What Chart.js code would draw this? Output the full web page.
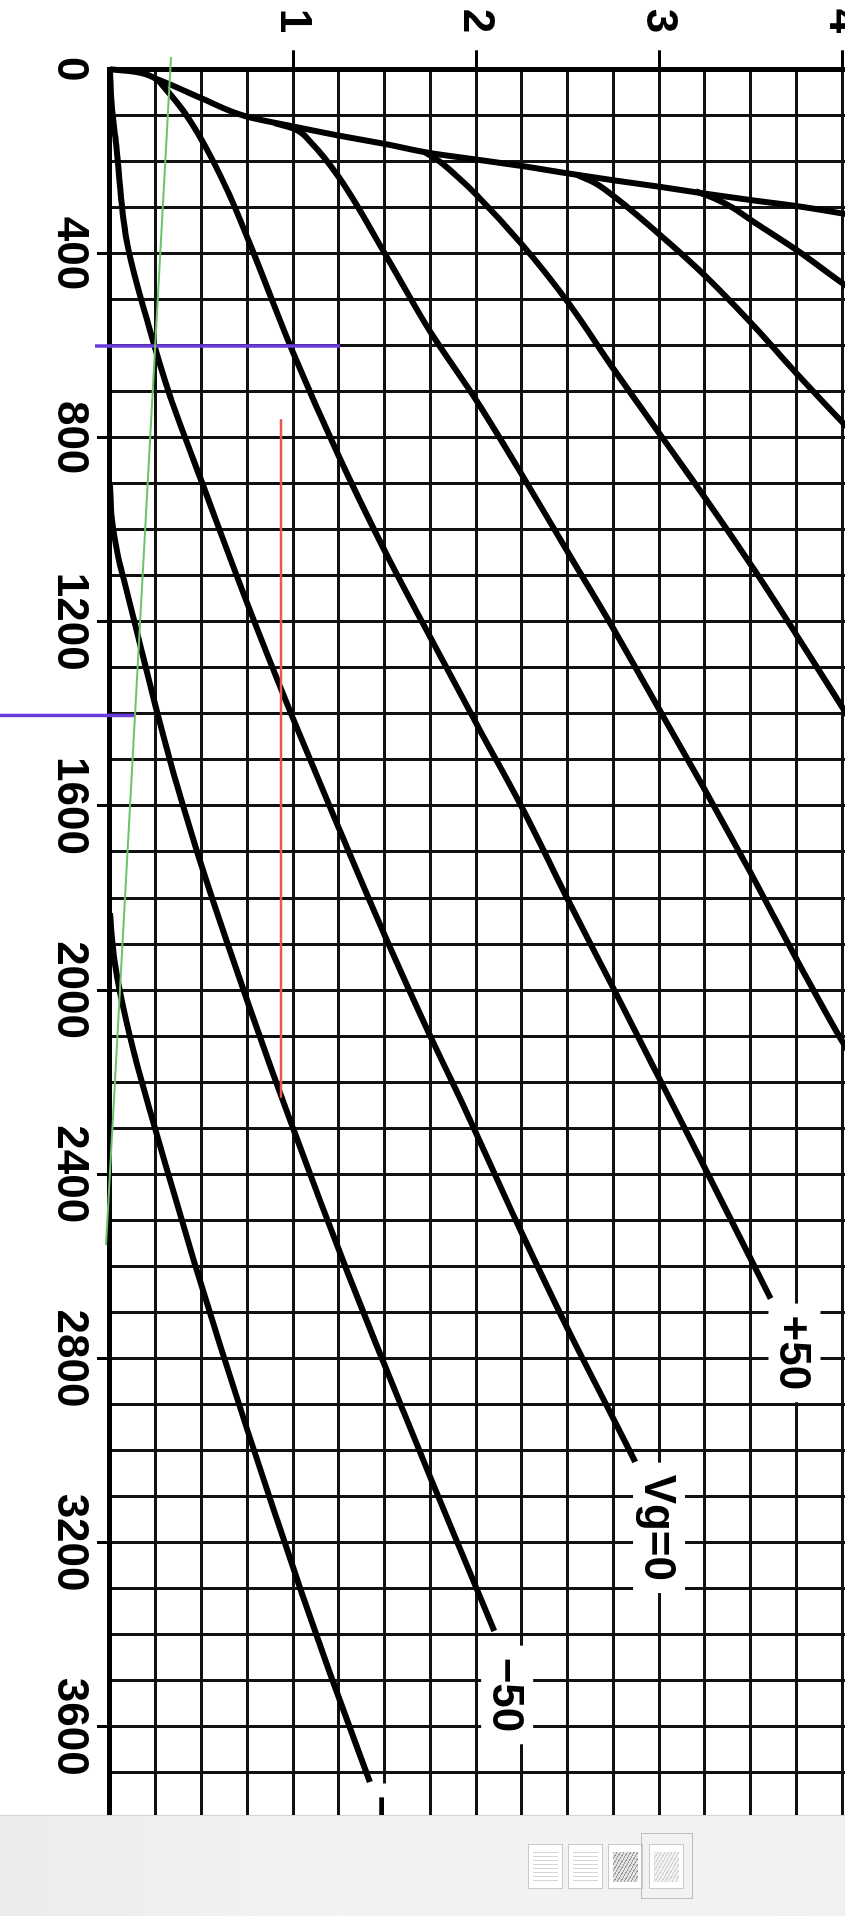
<!DOCTYPE html>
<html>
<head>
<meta charset="utf-8">
<script src="https://cdn.jsdelivr.net/npm/chart.js@4.4.1/dist/chart.umd.min.js"></script>
<style>
  html, body { margin: 0; padding: 0; background: #fff; overflow: hidden; width: 845px; height: 1916px; }
  /* the scan is turned a quarter clockwise, so the chart is drawn flat and rotated */
  #turn { position: absolute; left: 845px; top: 0; width: 1916px; height: 845px; transform-origin: 0 0; transform: rotate(90deg); }
  #bar { position: absolute; left: 0; top: 1815px; width: 845px; height: 101px; background: linear-gradient(90deg, #ececec, #f3f3f3 40%, #f1f1f1); border-top: 1px solid #d4d4d4; }
  .thumb { position: absolute; top: 28px; width: 33px; height: 43px; background: #fff; border: 1px solid #c9c9c9; }
  .thumb i { position: absolute; left: 4px; right: 4px; top: 7px; bottom: 6px; background: repeating-linear-gradient(180deg, #d6d6d6 0 1px, transparent 1px 4px); }
  .thumb.dark i { background: repeating-linear-gradient(120deg, #9a9a9a 0 1px, #e4e4e4 1px 3px); }
  .thumb.faint i { background: repeating-linear-gradient(120deg, #d0d0d0 0 1px, #f2f2f2 1px 3px); }
  #sel { position: absolute; left: 641px; top: 17px; width: 50px; height: 64px; border: 1px solid #bdbdbd; }
</style>
</head>
<body>
<div id="turn"><canvas id="plate" width="1916" height="845"></canvas></div>
<div id="bar">
  <div class="thumb" style="left:528px"><i></i></div>
  <div class="thumb" style="left:568px"><i></i></div>
  <div class="thumb dark" style="left:608px"><i></i></div>
  <div class="thumb faint" style="left:649px"><i></i></div>
  <div id="sel"></div>
</div>
<script>
// plate volts (V) against plate current (I)
const voltTicks = [0, 400, 800, 1200, 1600, 2000, 2400, 2800, 3200, 3600];
const ampTicks = [1, 2, 3, 4];

// envelope the high positive-grid curves leave from
const limitI = [0, 0.13, 0.26, 0.5, 0.75, 1.0, 1.25, 1.5, 1.75, 2.0, 2.25, 2.5, 2.75, 3.0, 3.25, 3.5, 3.75, 4.03];
const limitV = [0, 5, 22, 63, 103, 124, 144, 162, 182, 196, 210, 226, 241, 255, 270, 284, 297, 315];

const vgP250I = [3.2, 3.3, 3.4, 3.5, 3.75, 4.0, 4.03];
const vgP250V = [265, 280, 300, 327, 392, 464, 472];

const vgP200I = [2.55, 2.65, 2.75, 3.0, 3.25, 3.5, 3.75, 4.0, 4.03];
const vgP200V = [229, 247, 275, 358, 448, 550, 660, 766, 778];

const vgP150I = [1.72, 1.8, 1.9, 2.0, 2.25, 2.5, 2.75, 3.0, 3.25, 3.5, 3.75, 4.0, 4.03];
const vgP150V = [180, 200, 234, 272, 380, 505, 650, 790, 930, 1075, 1228, 1385, 1404];

const vgP100I = [0.9, 1.01, 1.1, 1.25, 1.5, 1.75, 2.0, 2.25, 2.5, 2.75, 3.0, 3.25, 3.5, 3.75, 4.0, 4.03];
const vgP100V = [117, 130, 160, 234, 399, 570, 718, 880, 1048, 1215, 1390, 1565, 1745, 1932, 2111, 2130];

const vgP50I = [0.26, 0.4, 0.51, 0.64, 0.77, 1.0, 1.25, 1.5, 1.75, 2.0, 2.25, 2.5, 2.75, 3.0, 3.27, 3.61];
const vgP50V = [22, 90, 160, 262, 385, 615, 840, 1045, 1234, 1420, 1603, 1802, 1996, 2191, 2402, 2670];

const vg0I = [0, 0.01, 0.035, 0.09, 0.21, 0.33, 0.49, 0.75, 1.0, 1.25, 1.5, 1.75, 1.93, 2.2, 2.5, 2.73, 2.87];
const vg0V = [0, 80, 170, 370, 555, 712, 884, 1160, 1410, 1648, 1880, 2100, 2250, 2485, 2735, 2915, 3025];

const vgM50I = [0, 0.01, 0.04, 0.08, 0.13, 0.19, 0.25, 0.32, 0.4, 0.48, 0.57, 0.66, 0.76, 0.88, 1.0, 1.15, 1.3, 1.45, 1.6, 1.75, 1.9, 2.05, 2.1];
const vgM50V = [900, 975, 1050, 1115, 1195, 1290, 1385, 1490, 1600, 1705, 1815, 1920, 2035, 2170, 2300, 2460, 2615, 2765, 2912, 3058, 3202, 3345, 3392];

const vgM100I = [0, 0.02, 0.06, 0.13, 0.22, 0.33, 0.46, 0.6, 0.75, 0.9, 1.05, 1.2, 1.42];
const vgM100V = [1833, 1925, 2015, 2135, 2265, 2415, 2590, 2770, 2955, 3135, 3312, 3482, 3720];

// curve names printed at the ends of the lower curves
const tagText = ['+50', 'Vg=0', '\u221250', '\u2212100'];
const tagV = [2788, 3168, 3531, 3857];
const tagI = [3.74, 3.0, 2.17, 1.48];

// marks drawn over the scan in colour
const greenV = [-26.7, 2554];
const greenI = [0.333, -0.022];
const purpleTopV = [601, 601];
const purpleTopI = [-0.082, 1.257];
const purpleLowV = [1403.5, 1403.5];
const purpleLowI = [-0.601, 0.131];
const redV = [760, 2234];
const redI = [0.934, 0.934];

const VOLT_MAX = 4011.1;
const AMP_MAX = 4.016;
const FONT = { family: '"Liberation Sans", Arial, sans-serif', size: 44, weight: 'bold' };

function pts(vs, is) {
    return vs.map((v, k) => ({ x: v, y: is[k] }));
}

function curve(vs, is) {
    return {
        data: pts(vs, is),
        showLine: true,
        borderColor: '#000',
        borderWidth: 6,
        pointRadius: 0,
        cubicInterpolationMode: 'monotone',
        clip: false
    };
}

function mark(vs, is, color, width) {
    return {
        data: pts(vs, is),
        showLine: true,
        borderColor: color,
        borderWidth: width,
        pointRadius: 0,
        tension: 0,
        clip: false
    };
}

const curveTags = {
    id: 'curveTags',
    afterDatasetsDraw(chart) {
        const { ctx, scales: { x, y } } = chart;
        ctx.save();
        ctx.font = `${FONT.weight} ${FONT.size}px ${FONT.family}`;
        ctx.textAlign = 'center';
        ctx.textBaseline = 'middle';
        tagText.forEach((t, k) => {
            const px = x.getPixelForValue(tagV[k]);
            const py = y.getPixelForValue(tagI[k]);
            const w = ctx.measureText(t).width;
            ctx.fillStyle = '#fff';
            ctx.fillRect(px - w / 2 - 12, py - 26, w + 24, 52);
            ctx.fillStyle = '#000';
            ctx.fillText(t, px, py + 2);
        });
        ctx.restore();
    }
};

const clear = 'rgba(0,0,0,0)';

new Chart(document.getElementById('plate'), {
    type: 'scatter',
    data: {
        datasets: [
            // first dataset is painted last, so the colour marks go first
            mark(greenV, greenI, '#6cc46a', 2),
            mark(purpleTopV, purpleTopI, '#6a3bdb', 3.5),
            mark(purpleLowV, purpleLowI, '#6a3bdb', 3.5),
            mark(redV, redI, '#e8574a', 2.5),
            curve(limitV, limitI),
            curve(vgP250V, vgP250I),
            curve(vgP200V, vgP200I),
            curve(vgP150V, vgP150I),
            curve(vgP100V, vgP100I),
            curve(vgP50V, vgP50I),
            curve(vg0V, vg0I),
            curve(vgM50V, vgM50I),
            curve(vgM100V, vgM100I)
        ]
    },
    options: {
        responsive: false,
        animation: false,
        devicePixelRatio: 1,
        layout: { padding: 0 },
        plugins: {
            legend: { display: false },
            tooltip: { enabled: false }
        },
        scales: {
            x: {
                type: 'linear',
                position: 'bottom',
                min: 0,
                max: VOLT_MAX,
                afterFit(s) { s.height = 110; s.paddingLeft = 0; s.paddingRight = 0; },
                border: { display: true, color: '#000', width: 5 },
                grid: {
                    color: '#111',
                    lineWidth: 3,
                    tickLength: 13,
                    tickWidth: 3,
                    tickColor: (c) => (c.tick && c.tick.value > 0 && c.tick.value % 400 === 0) ? '#000' : clear
                },
                ticks: {
                    stepSize: 100,
                    autoSkip: false,
                    includeBounds: false,
                    maxRotation: 0,
                    minRotation: 0,
                    padding: 0,
                    color: '#000',
                    font: FONT,
                    callback: (v) => voltTicks.includes(v) ? String(v) : ''
                }
            },
            y: {
                type: 'linear',
                position: 'left',
                min: 0,
                max: AMP_MAX,
                afterFit(s) { s.width = 69.3; s.paddingTop = 0; s.paddingBottom = 0; },
                border: { display: true, color: '#000', width: 5 },
                grid: {
                    color: '#111',
                    lineWidth: 3,
                    tickLength: 19,
                    tickWidth: 3,
                    tickColor: (c) => (c.tick && ampTicks.includes(c.tick.value)) ? '#000' : clear
                },
                ticks: {
                    stepSize: 0.25,
                    autoSkip: false,
                    includeBounds: false,
                    padding: 17,
                    color: '#000',
                    font: FONT,
                    callback: (v) => ampTicks.includes(v) ? String(v) : ''
                }
            }
        }
    },
    plugins: [curveTags]
});
</script>
</body>
</html>
